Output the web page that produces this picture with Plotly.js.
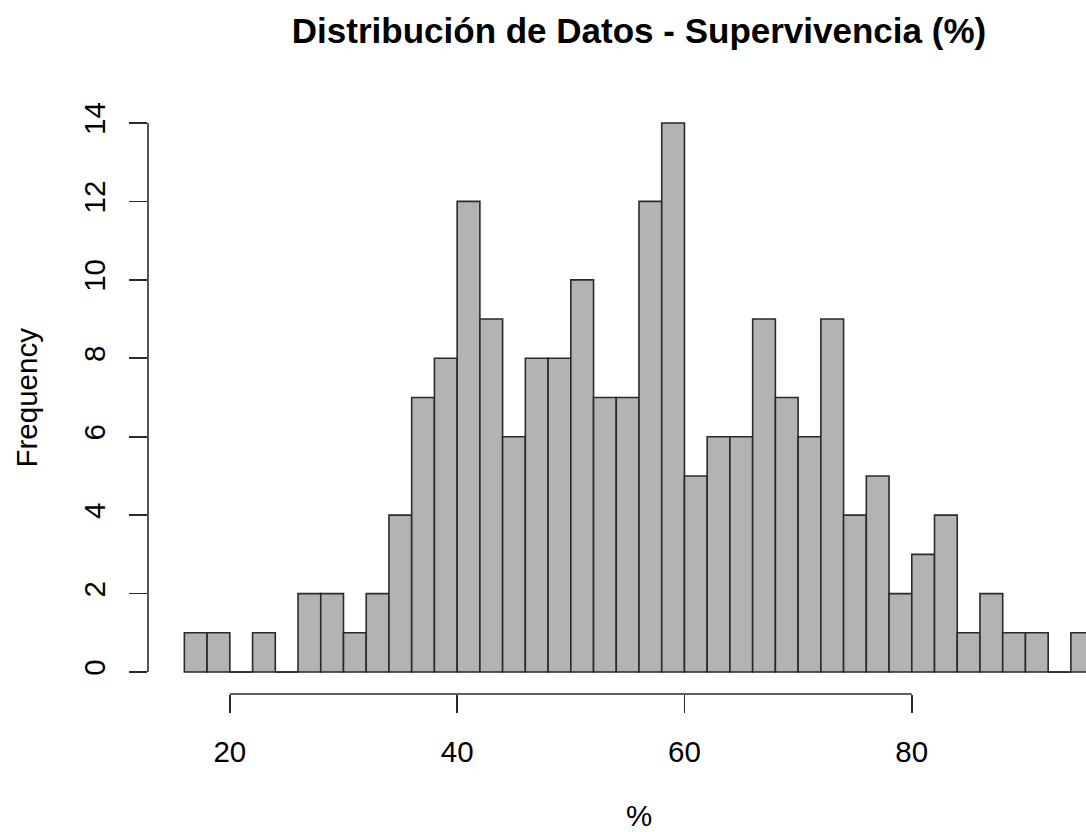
<!DOCTYPE html>
<html>
<head>
<meta charset="utf-8">
<script src="https://cdn.plot.ly/plotly-3.0.1.min.js"></script>
<style>
html,body{margin:0;padding:0;overflow:hidden;background:#fff;width:1086px;height:832px;}
#chart{width:1200px;height:832px;}
</style>
</head>
<body>
<div id="chart"></div>
<script>
// Histogram bins (width 2) and counts
const binCenters = [17,19,21,23,25,27,29,31,33,35,37,39,41,43,45,47,49,51,53,55,57,59,61,63,65,67,69,71,73,75,77,79,81,83,85,87,89,91,93,95];
const counts     = [1, 1, 0, 1, 0, 2, 2, 1, 2, 4, 7, 8, 12,9, 6, 8, 8, 10,7, 7, 12,14,5, 6, 6, 9, 7, 6, 9, 4, 5, 2, 3, 4, 1, 2, 1, 1, 0, 1];
const binWidth = 2;
const xTicks = [20,40,60,80];
const yTicks = [0,2,4,6,8,10,12,14];

const titleText = "Distribución de Datos - Supervivencia (%)";
const xLabel = "%";
const yLabel = "Frequency";

const FONT = "Liberation Sans, Arial, Helvetica, sans-serif";
const lineCol = "#2a2a2a";

const trace = {
  type: "bar",
  x: binCenters,
  y: counts,
  width: binCenters.map(() => binWidth),
  marker: {color: "#b3b3b3", line: {color: lineCol, width: 1.6}},
  hoverinfo: "x+y"
};

// empty bins are drawn by R as a flat outline at zero
const zx = [], zy = [];
binCenters.forEach((c, i) => {
  if (counts[i] === 0) { zx.push(c - binWidth/2, c + binWidth/2, null); zy.push(0, 0, null); }
});
const zeroTrace = {type: "scatter", mode: "lines", x: zx, y: zy, line: {color: lineCol, width: 1.6}, hoverinfo: "skip"};

const PY = p => (694 - p) / 593, PX = p => (p - 148) / 982;

const layout = {
  width: 1200, height: 832,
  margin: {l: 148, r: 70, t: 101, b: 138},
  paper_bgcolor: "#fff", plot_bgcolor: "#fff",
  showlegend: false,
  bargap: 0,
  font: {family: FONT, color: "#000"},
  title: {text: "<b>" + titleText + "</b>", font: {family: FONT, size: 35, color: "#000"},
          x: 0.5, xref: "paper", xanchor: "center", y: 1 - 31/832, yref: "container", yanchor: "middle"},
  xaxis: {
    range: [12.8, 99.2], tickvals: xTicks, ticktext: xTicks.map(String),
    showgrid: false, zeroline: false, showline: false,
    ticks: "outside", ticklen: 18, tickwidth: 1.6, tickcolor: lineCol,
    tickfont: {family: FONT, size: 29.5, color: "#000"}, ticklabelstandoff: 14
  },
  yaxis: {
    range: [-0.56, 14.56], tickvals: yTicks, ticktext: yTicks.map(String),
    showgrid: false, zeroline: false, showline: false,
    ticks: "outside", ticklen: 18, tickwidth: 1.6, tickcolor: lineCol, tickangle: -90,
    tickfont: {family: FONT, size: 29.5, color: "#000"}, ticklabelstandoff: 12
  },
  shapes: [
    {type: "line", xref: "x", yref: "paper", x0: xTicks[0], x1: xTicks[xTicks.length-1], y0: 0, y1: 0,
     line: {color: lineCol, width: 1.6}},
    {type: "line", xref: "paper", yref: "y", x0: 0, x1: 0, y0: yTicks[0], y1: yTicks[yTicks.length-1],
     line: {color: lineCol, width: 1.6}}
  ],
  annotations: [
    {text: xLabel, xref: "paper", yref: "paper", x: 0.5, y: PY(815), xanchor: "center", yanchor: "middle",
     showarrow: false, font: {family: FONT, size: 29.5, color: "#000"}},
    {text: yLabel, xref: "paper", yref: "paper", x: PX(26), y: 0.5, xanchor: "center", yanchor: "middle",
     textangle: -90, showarrow: false, font: {family: FONT, size: 29.5, color: "#000"}}
  ]
};

Plotly.newPlot("chart", [trace, zeroTrace], layout, {displayModeBar: false, staticPlot: true});
</script>
</body>
</html>
